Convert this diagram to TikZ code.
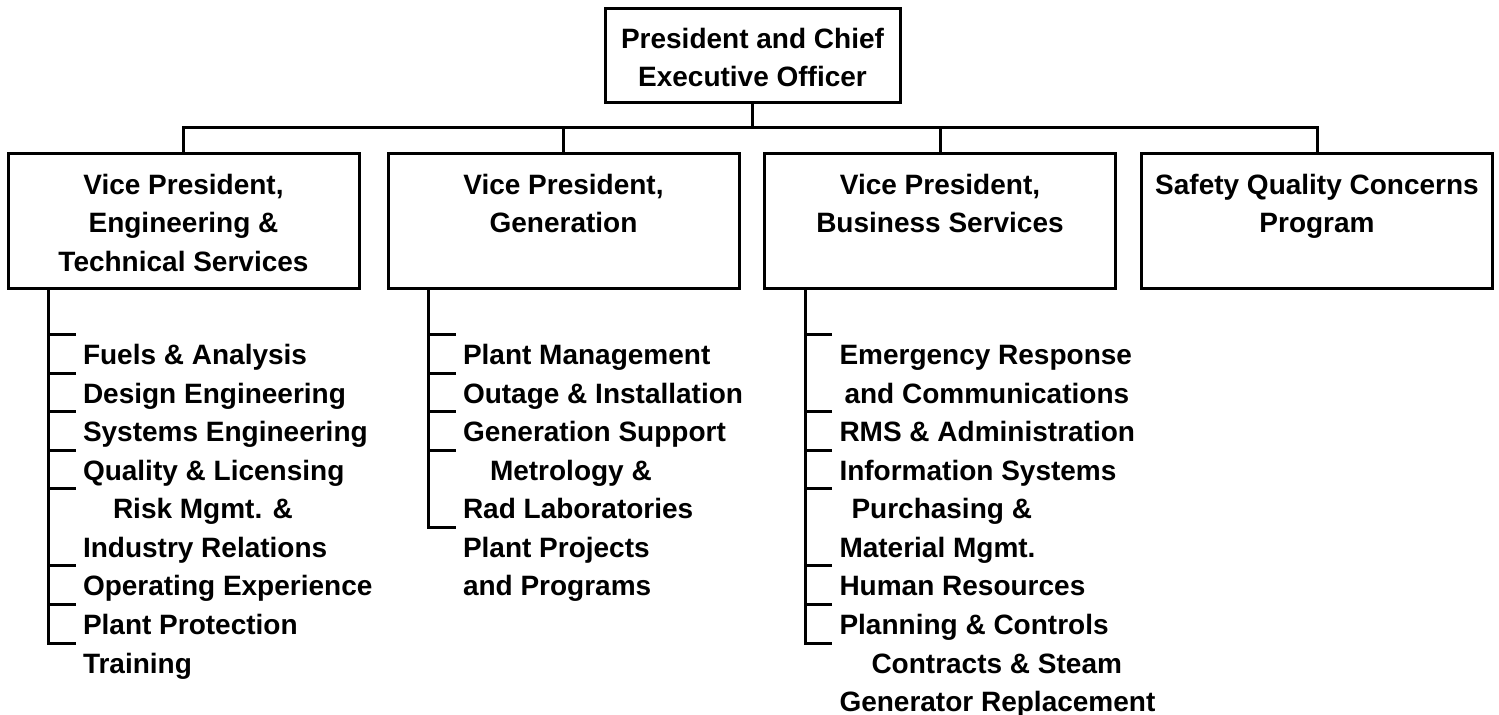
\documentclass[tikz,border=0pt]{standalone}
\usepackage{fontspec}
\setmainfont{Liberation Sans}
\usetikzlibrary{positioning}

% lines of a node, first line as its baseline
\newcommand{\rowsl}[1]{\begin{tabular}[t]{@{}l@{}}#1\end{tabular}}
\newcommand{\rowsc}[1]{\begin{tabular}[t]{@{}c@{}}#1\end{tabular}}

\begin{document}
\begin{tikzpicture}[x=0.5pt,y=-0.5pt,line width=1.5pt,
    font=\fontsize{14}{19.25}\selectfont\bfseries,
    office/.style={draw,minimum width=175.5pt,inner sep=0pt,
      anchor=north,text height=20.5pt,text depth=47pt},
    unit/.style={inner sep=0pt,anchor=base west}]

    \useasboundingbox (0,0) rectangle (1499,715);

    % top level
    \node[office,minimum width=147.5pt,text height=20pt,text depth=27pt] (ceo) at (752.5,7)
        {\rowsc{President and Chief\\Executive Officer}};

    \node[office] (eng) at (183.5,152) {\rowsc{Vice President,\\Engineering \&\\Technical Services}};
    \node[office] (gen) at (563.5,152) {\rowsc{Vice President,\\Generation}};
    \node[office] (biz) at (940,152) {\rowsc{Vice President,\\Business Services}};
    \node[office] (sqc) at (1317,152) {\rowsc{Safety Quality Concerns\\Program}};

    \coordinate (hub) at (752.5,128);
    \draw (ceo.south) -- (ceo.south |- hub);
    \draw (eng.north) -- (eng.north |- hub) -- (sqc.north |- hub) -- (sqc.north);
    \draw (gen.north) -- (gen.north |- hub);
    \draw (biz.north) -- (biz.north |- hub);

    % engineering & technical services
    \coordinate (engtrunk) at ([xshift=21pt]eng.south west);
    \node[unit] (fuels) at ([xshift=37.5pt,yshift=-37.5pt]eng.south west) {Fuels \& Analysis};
    \node[unit] (design) at ([yshift=-19.25pt]fuels.base west) {Design Engineering};
    \node[unit] (systems) at ([yshift=-19.25pt]design.base west) {Systems Engineering};
    \node[unit] (quality) at ([yshift=-19.25pt]systems.base west) {Quality \& Licensing};
    \node[unit] (risk) at ([yshift=-19.25pt]quality.base west) {\rowsl{\hspace*{15pt}Risk Mgmt. \&\\Industry Relations}};
    \node[unit] (operating) at ([yshift=-38.5pt]risk.base west) {Operating Experience};
    \node[unit] (protection) at ([yshift=-19.25pt]operating.base west) {Plant Protection};
    \node[unit] (training) at ([yshift=-19.25pt]protection.base west) {Training};

    \draw (engtrunk) |- ([xshift=-3pt,yshift=15pt]training.base west)
          ([xshift=-3pt,yshift=15pt]fuels.base west) -- ++(-13.5pt,0)
          ([xshift=-3pt,yshift=15pt]design.base west) -- ++(-13.5pt,0)
          ([xshift=-3pt,yshift=15pt]systems.base west) -- ++(-13.5pt,0)
          ([xshift=-3pt,yshift=15pt]quality.base west) -- ++(-13.5pt,0)
          ([xshift=-3pt,yshift=15pt]risk.base west) -- ++(-13.5pt,0)
          ([xshift=-3pt,yshift=15pt]operating.base west) -- ++(-13.5pt,0)
          ([xshift=-3pt,yshift=15pt]protection.base west) -- ++(-13.5pt,0);

    % generation
    \coordinate (gentrunk) at ([xshift=21pt]gen.south west);
    \node[unit] (plantmgmt) at ([xshift=37.5pt,yshift=-37.5pt]gen.south west) {Plant Management};
    \node[unit] (outage) at ([yshift=-19.25pt]plantmgmt.base west) {Outage \& Installation};
    \node[unit] (gensupport) at ([yshift=-19.25pt]outage.base west) {Generation Support};
    \node[unit] (metrology) at ([yshift=-19.25pt]gensupport.base west) {\rowsl{\hspace*{13.5pt}Metrology \&\\Rad Laboratories}};
    \node[unit] (projects) at ([yshift=-38.5pt]metrology.base west) {\rowsl{Plant Projects\\and Programs}};

    \draw (gentrunk) |- ([xshift=-3pt,yshift=15pt]projects.base west)
          ([xshift=-3pt,yshift=15pt]plantmgmt.base west) -- ++(-13.5pt,0)
          ([xshift=-3pt,yshift=15pt]outage.base west) -- ++(-13.5pt,0)
          ([xshift=-3pt,yshift=15pt]gensupport.base west) -- ++(-13.5pt,0)
          ([xshift=-3pt,yshift=15pt]metrology.base west) -- ++(-13.5pt,0);

    % business services
    \coordinate (biztrunk) at ([xshift=21pt]biz.south west);
    \node[unit] (emergency) at ([xshift=37.5pt,yshift=-37.5pt]biz.south west) {\rowsl{Emergency Response\\\hspace*{2.5pt}and Communications}};
    \node[unit] (rms) at ([yshift=-38.5pt]emergency.base west) {RMS \& Administration};
    \node[unit] (infosys) at ([yshift=-19.25pt]rms.base west) {Information Systems};
    \node[unit] (purchasing) at ([yshift=-19.25pt]infosys.base west) {\rowsl{\hspace*{6pt}Purchasing \&\\Material Mgmt.}};
    \node[unit] (human) at ([yshift=-38.5pt]purchasing.base west) {Human Resources};
    \node[unit] (planning) at ([yshift=-19.25pt]human.base west) {Planning \& Controls};
    \node[unit] (contracts) at ([yshift=-19.25pt]planning.base west) {\rowsl{\hspace*{16pt}Contracts \& Steam\\Generator Replacement}};

    \draw (biztrunk) |- ([xshift=-3pt,yshift=15pt]contracts.base west)
          ([xshift=-3pt,yshift=15pt]emergency.base west) -- ++(-13.5pt,0)
          ([xshift=-3pt,yshift=15pt]rms.base west) -- ++(-13.5pt,0)
          ([xshift=-3pt,yshift=15pt]infosys.base west) -- ++(-13.5pt,0)
          ([xshift=-3pt,yshift=15pt]purchasing.base west) -- ++(-13.5pt,0)
          ([xshift=-3pt,yshift=15pt]human.base west) -- ++(-13.5pt,0)
          ([xshift=-3pt,yshift=15pt]planning.base west) -- ++(-13.5pt,0);

\end{tikzpicture}
\end{document}
